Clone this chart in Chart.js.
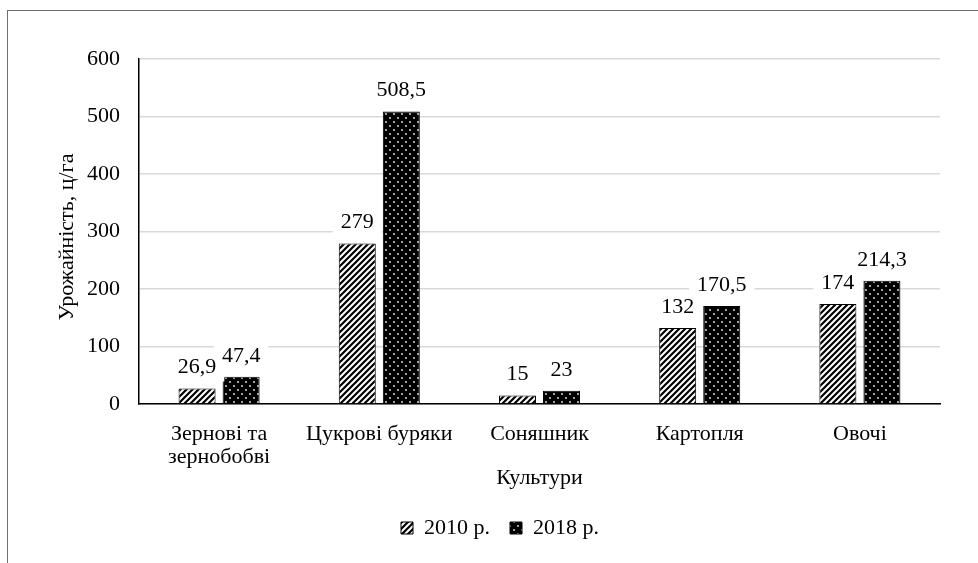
<!DOCTYPE html>
<html lang="uk">
<head>
  <meta charset="UTF-8">
  <title>Урожайність</title>
  <script src="https://cdn.jsdelivr.net/npm/chart.js@4.4.0/dist/chart.umd.min.js"></script>
  <style>
    html, body {
      margin: 0;
      padding: 0;
      background: #fff;
      width: 978px;
      height: 563px;
      overflow: hidden;
    }
    #frame {
      position: absolute;
      left: 7px;
      top: 10px;
      width: 1000px;
      height: 600px;
      border: 1.5px solid #6e6e6e;
      box-sizing: border-box;
      pointer-events: none;
    }
    #myChart {
      position: absolute;
      left: 0;
      top: 0;
    }
  </style>
</head>
<body>
<canvas id="myChart" width="978" height="563"></canvas>
<div id="frame"></div>

<script>
  // дані з рисунка
  const categories = [['Зернові та', 'зернобобві'], 'Цукрові буряки', 'Соняшник', 'Картопля', 'Овочі'];
  const seriesNames = ['2010 р.', '2018 р.'];
  const values2010 = [26.9, 279, 15, 132, 174];
  const values2018 = [47.4, 508.5, 23, 170.5, 214.3];
  const yTicks = [0, 100, 200, 300, 400, 500, 600];

  const FONT = "'Liberation Serif', 'Times New Roman', serif";
  const FS = 22;

  // штрихування "///"
  function stripePattern() {
    const c = document.createElement('canvas');
    c.width = 6; c.height = 6;
    const g = c.getContext('2d');
    g.fillStyle = '#fff';
    g.fillRect(0, 0, 6, 6);
    g.strokeStyle = '#000';
    g.lineWidth = 2.2;
    g.beginPath();
    g.moveTo(-1, 7); g.lineTo(7, -1);
    g.moveTo(-4, 4); g.lineTo(4, -4);
    g.moveTo(2, 10); g.lineTo(10, 2);
    g.stroke();
    return g.createPattern(c, 'repeat');
  }

  // чорне тло з білими крапками
  function dotPattern() {
    const c = document.createElement('canvas');
    c.width = 8; c.height = 8;
    const g = c.getContext('2d');
    g.fillStyle = '#000';
    g.fillRect(0, 0, 8, 8);
    g.fillStyle = '#d8d8d8';
    g.beginPath();
    g.arc(2, 2, 1, 0, Math.PI * 2);
    g.arc(6, 6, 1, 0, Math.PI * 2);
    g.fill();
    return g.createPattern(c, 'repeat');
  }

  const fmt = v => String(v).replace('.', ',');

  // підписи значень на білому тлі: спочатку всі підкладки, потім текст
  const valueLabels = {
    id: 'valueLabels',
    afterDatasetsDraw(chart) {
      const ctx = chart.ctx;
      ctx.save();
      ctx.font = FS + 'px ' + FONT;
      ctx.textAlign = 'center';
      ctx.textBaseline = 'middle';
      const items = [];
      chart.data.datasets.forEach((ds, i) => {
        chart.getDatasetMeta(i).data.forEach((bar, j) => {
          const txt = fmt(ds.data[j]);
          items.push({ txt, x: bar.x, y: bar.y - 21, w: ctx.measureText(txt).width });
        });
      });
      ctx.fillStyle = '#fff';
      items.forEach(it => ctx.fillRect(it.x - it.w / 2 - 8, it.y - 13, it.w + 16, 27));
      ctx.fillStyle = '#000';
      items.forEach(it => ctx.fillText(it.txt, it.x, it.y));
      ctx.restore();
    }
  };

  // назва осі Y + зсув легенди
  const extras = {
    id: 'extras',
    afterLayout(chart) {
      chart.legend.left += 30;
      chart.legend.right += 30;
    },
    afterDraw(chart) {
      const ctx = chart.ctx;
      ctx.save();
      ctx.translate(67, 237);
      ctx.rotate(-Math.PI / 2);
      ctx.font = FS + 'px ' + FONT;
      ctx.fillStyle = '#000';
      ctx.textAlign = 'center';
      ctx.textBaseline = 'middle';
      ctx.fillText('Урожайність, ц/га', 0, 0);
      ctx.restore();
    }
  };

  const ctx = document.getElementById('myChart').getContext('2d');
  const myChart = new Chart(ctx, {
    type: 'bar',
    data: {
      labels: categories,
      datasets: [{
        label: seriesNames[0],
        data: values2010,
        backgroundColor: stripePattern(),
        borderColor: '#000',
        borderWidth: 1
      }, {
        label: seriesNames[1],
        data: values2018,
        backgroundColor: dotPattern(),
        borderColor: '#000',
        borderWidth: 1
      }]
    },
    plugins: [valueLabels, extras],
    options: {
      responsive: false,
      animation: false,
      layout: {
        padding: { left: 0, top: 59, right: 38, bottom: 14 }
      },
      categoryPercentage: 0.55,
      barPercentage: 0.84,
      scales: {
        x: {
          grid: { display: false },
          border: { color: '#000', width: 1.5 },
          ticks: {
            color: '#000',
            font: { family: FONT, size: FS, lineHeight: 1.05 },
            padding: 11,
            maxRotation: 0
          },
          title: {
            display: true,
            text: 'Культури',
            color: '#000',
            font: { family: FONT, size: FS },
            padding: { top: 0, bottom: 6 }
          },
          afterFit(scale) {
            // вісь X займає все між низом області графіка (404) і легендою
            scale.height = 563 - 14 - scale.chart.legend.height - 404;
          }
        },
        y: {
          min: 0,
          max: 600,
          afterBuildTicks(scale) {
            scale.ticks = yTicks.map(v => ({ value: v }));
          },
          afterFit(scale) {
            scale.width = 139;
          },
          grid: { color: '#d9d9d9', lineWidth: 1.5, drawTicks: false },
          border: { color: '#000', width: 1.5 },
          ticks: {
            color: '#000',
            font: { family: FONT, size: FS },
            padding: 19
          }
        }
      },
      plugins: {
        legend: {
          position: 'bottom',
          labels: {
            color: '#000',
            font: { family: FONT, size: FS },
            boxWidth: 12,
            boxHeight: 12,
            padding: 20
          }
        },
        tooltip: { enabled: false }
      }
    }
  });
</script>
</body>
</html>
